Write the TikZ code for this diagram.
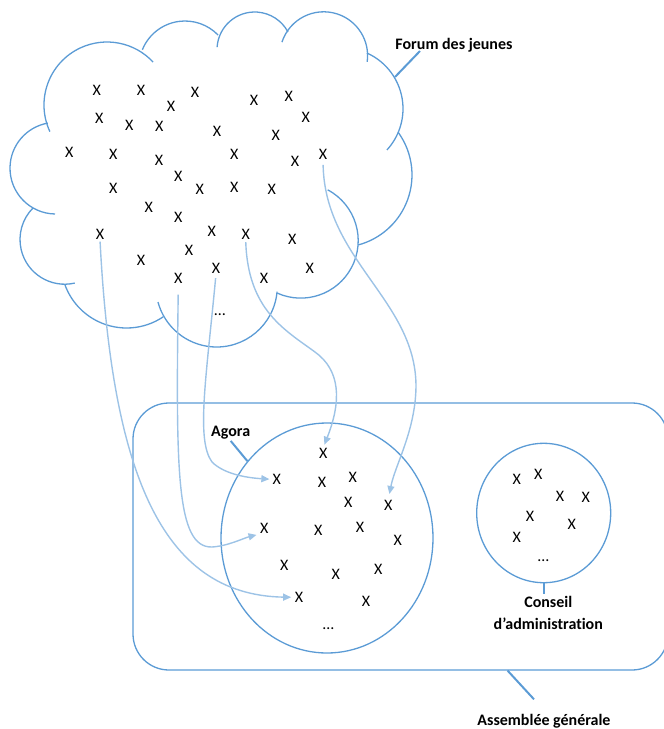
\documentclass[tikz,border=0pt]{standalone}
\usepackage{fontspec}
\setmainfont{Carlito}[Ligatures=NoCommon]
\usetikzlibrary{shapes.geometric,arrows.meta}
\definecolor{outl}{RGB}{91,155,213}
\definecolor{arr}{RGB}{157,195,230}
\begin{document}
\begin{tikzpicture}[x=1pt,y=-1pt,
  xm/.style={inner sep=0.5pt, font=\fontsize{16}{19}\selectfont},
  lbl/.style={inner sep=0pt, font=\fontsize{16}{19}\selectfont\bfseries, anchor=base},
  shapeline/.style={draw=outl, line width=1.3pt},
  callout/.style={draw=outl, line width=2pt},
  flow/.style={draw=arr, line width=1.4pt, -{Triangle[length=8pt,width=7pt]}}]
\useasboundingbox (0,0) rectangle (664,729);
\clip (0,0) rectangle (664,729);
% cloud (Forum des jeunes)
\foreach \cx/\cy/\r/\a/\b in {107/105/63/155/317, 185/67/46/202/316, 254.7/49.7/37.7/184/332,
  323.7/55.7/43.9/198/368, 342/108.7/61/294/402.5, 339.5/174.9/72.5/324/435,
  300.7/240.6/57.5/298/474, 216.6/286.3/60.7/5/165, 126.6/262.4/65.6/56/160,
  64.7/239.5/44.7/77/225, 55.8/168.2/45.8/91/260}
  \draw[shapeline] ([shift={(\a:\r)}]\cx,\cy) arc[start angle=\a, end angle=\b, radius=\r];
% cloud members
\foreach \i/\x/\y in {1/96.7/90, 2/141/90, 3/171/106.7, 4/195/92.7, 5/254/100, 6/288.7/96.7,
  7/99.3/118.3, 8/129.3/125, 9/159.3/126.7, 10/305.7/117.3, 11/217/131, 12/275.7/135,
  13/69.3/152.3, 14/113.3/154, 15/159/160, 16/234.3/154, 17/295/161.7, 18/323/154,
  19/178.3/176.7, 20/113.3/188.3, 21/199.7/189.3, 22/234.3/187.3, 23/271.7/189.3,
  24/148.7/207.3, 25/178.3/217.7, 26/100/234.3, 27/211.7/231.7, 28/245.7/234.3,
  29/292.3/239.3, 30/189/250.7, 31/141/260, 32/216/268.3, 33/309.7/268.3,
  34/178.3/278.7, 35/264/278.7}
  \node[xm] (c\i) at (\x,\y) {X};
\node[xm] (cdots) at (220,315) {…};
\coordinate (cloudpt) at (395,77);
\coordinate (forumtail) at (420,51);
\node[lbl] (forum) at (454,49) {Forum des jeunes};
\draw[callout] (cloudpt) -- (forumtail);
% Assemblee generale
\node[draw=outl, line width=1.3pt, rounded corners=36pt, minimum width=535pt, minimum height=267pt] (ag) at (400.5,536.5) {};
\coordinate (agpt) at (507.5,670.5);
\coordinate (agtail) at (534,699.3);
\node[lbl] (aglbl) at (544,725.7) {Assemblée générale};
\draw[callout] (agpt) -- (agtail);
% Agora
\node[ellipse, draw=outl, line width=1.3pt, minimum width=212pt, minimum height=230pt] (agora) at (327,538) {};
\foreach \i/\x/\y in {1/323.3/453.3, 2/276.7/479.3, 3/322/482.3, 4/352.7/477.3, 5/348.3/502.7,
  6/388.3/505.7, 7/264.3/528.3, 8/318.3/530, 9/360/527.7, 10/397.7/540.7, 11/284.3/565,
  12/335.7/574.3, 13/378.3/569, 14/299/597.3, 15/366/601.7}
  \node[xm] (a\i) at (\x,\y) {X};
\node[xm] (adots) at (328.3,628.3) {…};
\node[lbl] (agoralbl) at (230.7,436) {Agora};
\draw[callout] (agoralbl.south) ++(0,2) coordinate (agoratail) (agoratail) -- (agora.136);
% Conseil d'administration
\node[ellipse, draw=outl, line width=1.3pt, minimum width=134pt, minimum height=139.4pt] (conseil) at (543.7,513) {};
\foreach \i/\x/\y in {1/516.7/479.3, 2/538.3/474.3, 3/560/496.7, 4/585.7/497.3,
  5/530/516.7, 6/571.7/524.3, 7/516.7/537.7}
  \node[xm] (k\i) at (\x,\y) {X};
\node[xm] (kdots) at (543.3,561) {…};
\node[lbl] (cons1) at (548.3,607.3) {Conseil};
\node[lbl] (cons2) at (548.3,629) {d’administration};
\draw[callout] (conseil.south) -- ([yshift=1.5pt]cons1.north -| conseil.south);
% flows
\draw[flow, shorten <=1.5pt, shorten >=3pt] (c26.south) .. controls (112,470) and (160,595) .. (a14.west);
\draw[flow, shorten <=10pt, shorten >=3pt] (c34.south) .. controls (176,470) and (176,548) .. (212,547)
  .. controls (228,546) and (244,538) .. (a7.south west);
\draw[flow, shorten <=4pt, shorten >=2.5pt] (c32.south) .. controls (206,380) and (196,440) .. (212,462)
  .. controls (225,475) and (250,478) .. (a2.west);
\draw[flow, shorten <=2pt, shorten >=3pt] (c28.south) .. controls (248,310) and (285,330) .. (315,352)
  .. controls (340,370) and (342,400) .. (a1.north);
\draw[flow, shorten <=5pt, shorten >=6pt] (c18.south) .. controls (325,260) and (415,300) .. (416,385)
  .. controls (416,430) and (395,465) .. (a6.north);
\end{tikzpicture}
\end{document}
